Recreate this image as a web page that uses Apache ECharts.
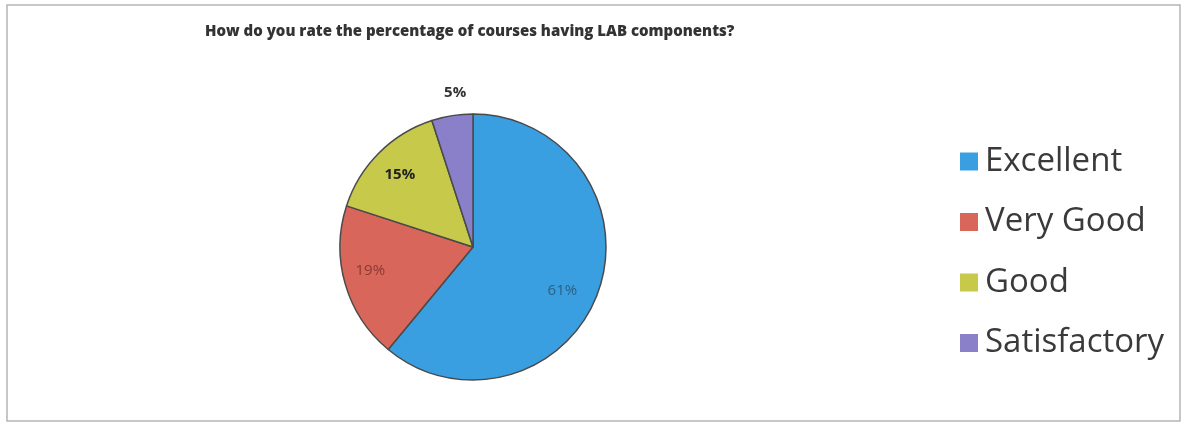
<!DOCTYPE html>
<html>
<head>
<meta charset="utf-8">
<script src="https://cdn.jsdelivr.net/npm/echarts@6/dist/echarts.min.js"></script>
<style>
  html, body { margin: 0; padding: 0; background: #fff; }
  #chart { width: 1187px; height: 430px; }
</style>
</head>
<body>
<div id="chart"></div>
<script>
var titleText = 'How do you rate the percentage of courses having LAB components?';
var categories = ['Excellent', 'Very Good', 'Good', 'Satisfactory'];
var values = [61, 19, 15, 5];
var colors = ['#3a9fe0', '#d8665a', '#c6c94a', '#8a80c9'];
// label tweaks per slice
var labelOffsets = [[24, 20], [-36, 4], [-24, -23], [-7, -86]];
var labelColors = ['#2d5f80', '#8a3a30', '#222', '#333'];
var labelWeights = ['normal', 'normal', 'bold', 'bold'];

var myChart = echarts.init(document.getElementById('chart'));

var pieData = [];
for (var i = 0; i < categories.length; i++) {
    pieData.push({
        name: categories[i],
        value: values[i],
        itemStyle: { color: colors[i] },
        label: {
            offset: labelOffsets[i],
            color: labelColors[i],
            fontWeight: labelWeights[i]
        }
    });
}

myChart.setOption({
    animation: false,
    graphic: [{
        type: 'rect',
        shape: { x: 7, y: 5, width: 1173, height: 416 },
        style: { fill: 'none', stroke: '#b5b5b5', lineWidth: 1.5 }
    }],
    title: {
        text: titleText,
        left: 200,
        top: 19,
        textStyle: { fontFamily: 'Open Sans', fontSize: 15, fontWeight: 800, color: '#333' }
    },
    legend: {
        orient: 'vertical',
        left: 955,
        top: 139,
        itemWidth: 18,
        itemHeight: 18,
        itemGap: 25.5,
        icon: 'rect',
        data: categories,
        itemStyle: { borderWidth: 0 },
        textStyle: { fontFamily: 'Open Sans', fontSize: 33, lineHeight: 35, color: '#3a3a3a', padding: [0, 0, 0, 2] }
    },
    series: [{
        type: 'pie',
        center: [473, 247],
        radius: 133,
        startAngle: 90,
        clockwise: true,
        itemStyle: { borderColor: '#4a4a4a', borderWidth: 1.5 },
        label: {
            show: true,
            position: 'inside',
            formatter: '{c}%',
            fontFamily: 'Open Sans',
            fontSize: 15
        },
        labelLine: { show: false },
        emphasis: { disabled: true },
        data: pieData
    }]
});
</script>
</body>
</html>
